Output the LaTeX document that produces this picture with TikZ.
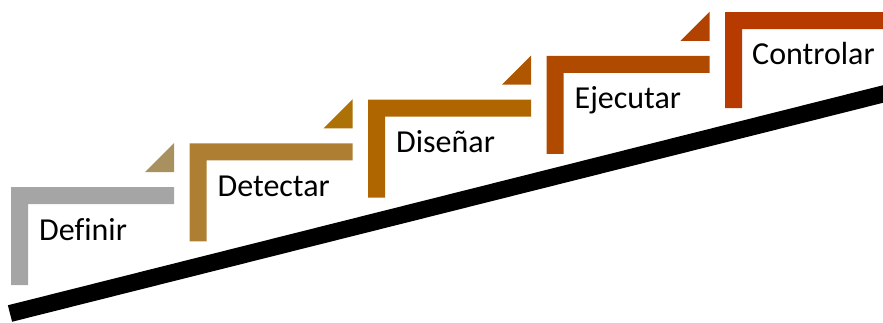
\documentclass[tikz,border=0pt]{standalone}
\usepackage{fontspec}
\setmainfont[Ligatures=CommonOff]{Carlito}

\definecolor{stepA}{HTML}{A5A5A5}
\definecolor{stepB}{HTML}{AE7F33}
\definecolor{stepC}{HTML}{AF6500}
\definecolor{stepD}{HTML}{B04A00}
\definecolor{stepE}{HTML}{B73A00}
\definecolor{tipA}{HTML}{A8915F}
\definecolor{tipB}{HTML}{AD7206}
\definecolor{tipC}{HTML}{AF5700}
\definecolor{tipD}{HTML}{B24200}

\begin{document}
\begin{tikzpicture}[x=1pt,y=1pt]
            \tikzstyle{every node}+=[inner sep=0pt, anchor=base west, font=\fontsize{32}{38}\selectfont]
            \useasboundingbox (0,0) rectangle (883,-322);
            \begin{scope}
            \clip (0,0) rectangle (883,-322);
            % the slope under the stairs
            \draw [black, line width=17pt] (10,-313.5) -- (895,-91);
            % step 1
            \fill [stepA] (11,-285) -- (11,-187) -- (174,-187) -- (174,-204) -- (28,-204) -- (28,-285) -- cycle;
            \fill [tipA] (145,-172) -- (174,-172) -- (174,-143) -- cycle;
            \node (definir) at (39,-240) {Definir};
            % step 2
            \fill [stepB] (189.5,-241.25) -- (189.5,-143.25) -- (352.5,-143.25) -- (352.5,-160.25) -- (206.5,-160.25) -- (206.5,-241.25) -- cycle;
            \fill [tipB] (323.5,-128.25) -- (352.5,-128.25) -- (352.5,-99.25) -- cycle;
            \node (detectar) at (217.5,-196.5) {Detectar};
            % step 3
            \fill [stepC] (368,-197.5) -- (368,-99.5) -- (531,-99.5) -- (531,-116.5) -- (385,-116.5) -- (385,-197.5) -- cycle;
            \fill [tipC] (502,-84.5) -- (531,-84.5) -- (531,-55.5) -- cycle;
            \node (disenar) at (396,-152.75) {Diseñar};
            % step 4
            \fill [stepD] (546.5,-153.75) -- (546.5,-55.75) -- (709.5,-55.75) -- (709.5,-72.75) -- (563.5,-72.75) -- (563.5,-153.75) -- cycle;
            \fill [tipD] (680.5,-40.75) -- (709.5,-40.75) -- (709.5,-11.75) -- cycle;
            \node (ejecutar) at (574.5,-108.5) {Ejecutar};
            % step 5
            \fill [stepE] (725,-108) -- (725,-12) -- (883,-12) -- (883,-29) -- (742,-29) -- (742,-108) -- cycle;
            \node (controlar) at (752,-64) {Controlar};
            \end{scope}
\end{tikzpicture}
\end{document}
